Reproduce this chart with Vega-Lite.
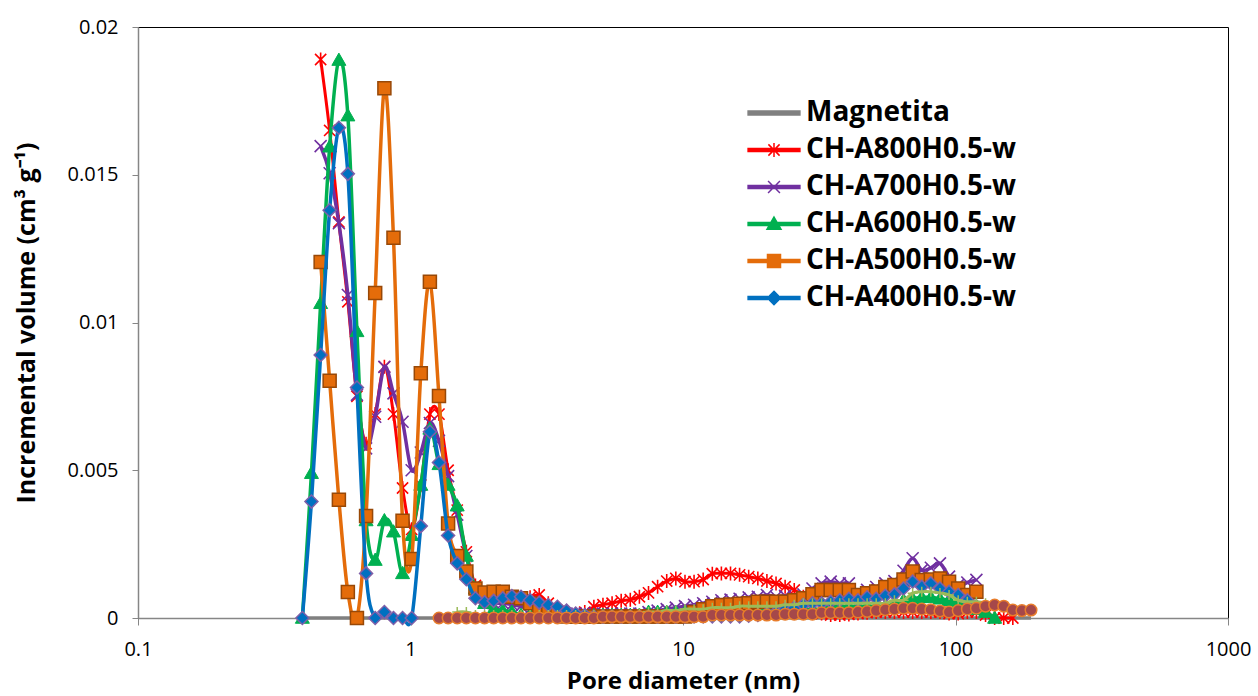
{
"$schema": "https://vega.github.io/schema/vega-lite/v6.json",
"width": 1090, "height": 591,
"autosize": {"type": "none"},
"padding": {"left": 138, "top": 27, "right": 30, "bottom": 78},
"background": "white",
"config": {"view": {"stroke": "#000", "strokeWidth": 1}, "font": "Open Sans"},
"datasets": {
"mag": [{"d":0.401,"v":0},{"d":189.3,"v":0}],
"r800": [{"d":0.468,"v":0.0189},{"d":0.505,"v":0.0165},{"d":0.546,"v":0.0134},{"d":0.589,"v":0.0107},{"d":0.636,"v":0.0075},{"d":0.687,"v":0.0059},{"d":0.742,"v":0.0069},{"d":0.802,"v":0.0085},{"d":0.866,"v":0.0069},{"d":0.935,"v":0.0044},{"d":1.01,"v":0.003},{"d":1.091,"v":0.0045},{"d":1.178,"v":0.0069},{"d":1.272,"v":0.0069},{"d":1.374,"v":0.005},{"d":1.484,"v":0.00365},{"d":1.603,"v":0.00224},{"d":1.731,"v":0.0011},{"d":1.87,"v":0.0008},{"d":2.019,"v":0.00065},{"d":2.181,"v":0.00065},{"d":2.355,"v":0.00065},{"d":2.544,"v":0.0006},{"d":2.747,"v":0.0007},{"d":2.967,"v":0.00078},{"d":3.204,"v":0.0005},{"d":3.461,"v":0.00025},{"d":3.738,"v":0.0001},{"d":4.037,"v":0.00005},{"d":4.36,"v":0.0002},{"d":4.709,"v":0.00038},{"d":5.085,"v":0.00045},{"d":5.492,"v":0.0005},{"d":5.931,"v":0.00058},{"d":6.406,"v":0.00062},{"d":6.918,"v":0.00072},{"d":7.472,"v":0.00085},{"d":8.069,"v":0.00106},{"d":8.715,"v":0.00125},{"d":9.412,"v":0.00134},{"d":10.17,"v":0.00123},{"d":10.98,"v":0.00123},{"d":11.86,"v":0.0013},{"d":12.81,"v":0.0015},{"d":13.83,"v":0.00151},{"d":14.94,"v":0.00151},{"d":16.13,"v":0.00146},{"d":17.42,"v":0.0014},{"d":18.82,"v":0.00134},{"d":20.32,"v":0.00125},{"d":21.95,"v":0.00117},{"d":23.7,"v":0.00106},{"d":25.6,"v":0.00095},{"d":27.65,"v":0.00072},{"d":29.86,"v":0.0003},{"d":32.25,"v":0.00015},{"d":34.83,"v":0.0001},{"d":37.61,"v":0.0001},{"d":40.62,"v":0.00012},{"d":43.87,"v":0.00015},{"d":47.38,"v":0.00018},{"d":51.17,"v":0.0002},{"d":55.27,"v":0.0002},{"d":59.69,"v":0.0002},{"d":64.46,"v":0.0002},{"d":69.62,"v":0.0002},{"d":75.19,"v":0.0002},{"d":81.2,"v":0.0002},{"d":87.7,"v":0.0002},{"d":94.7,"v":0.00015},{"d":102.3,"v":0.00015},{"d":110.5,"v":0.0002},{"d":119.3,"v":0.0002},{"d":128.9,"v":0.0001},{"d":139.2,"v":0},{"d":150.3,"v":0},{"d":162.3,"v":0}],
"r700": [{"d":0.468,"v":0.01597},{"d":0.505,"v":0.01505},{"d":0.546,"v":0.01336},{"d":0.589,"v":0.01093},{"d":0.636,"v":0.00755},{"d":0.687,"v":0.00574},{"d":0.742,"v":0.00681},{"d":0.802,"v":0.0085},{"d":0.866,"v":0.0076},{"d":0.935,"v":0.00664},{"d":1.01,"v":0.005},{"d":1.091,"v":0.0056},{"d":1.178,"v":0.0066},{"d":1.272,"v":0.006},{"d":1.374,"v":0.0048},{"d":1.484,"v":0.0035},{"d":1.603,"v":0.0021},{"d":1.731,"v":0.001},{"d":1.87,"v":0.0006},{"d":2.019,"v":0.0005},{"d":2.181,"v":0.0005},{"d":2.355,"v":0.00045},{"d":2.544,"v":0.0004},{"d":2.747,"v":0.0003},{"d":2.967,"v":0.0002},{"d":3.204,"v":0.00015},{"d":3.461,"v":0.00015},{"d":3.738,"v":0.00015},{"d":4.037,"v":0.00015},{"d":4.36,"v":0.00015},{"d":4.709,"v":0.00015},{"d":5.085,"v":0.00015},{"d":5.492,"v":0.00015},{"d":5.931,"v":0.00015},{"d":6.406,"v":0.00015},{"d":6.918,"v":0.00015},{"d":7.472,"v":0.0002},{"d":8.069,"v":0.00025},{"d":8.715,"v":0.0003},{"d":9.412,"v":0.00035},{"d":10.17,"v":0.0004},{"d":10.98,"v":0.00045},{"d":11.86,"v":0.0005},{"d":12.81,"v":0.00055},{"d":13.83,"v":0.0006},{"d":14.94,"v":0.00062},{"d":16.13,"v":0.00065},{"d":17.42,"v":0.0007},{"d":18.82,"v":0.00072},{"d":20.32,"v":0.00078},{"d":21.95,"v":0.00072},{"d":23.7,"v":0.00075},{"d":25.6,"v":0.00072},{"d":27.65,"v":0.0008},{"d":29.86,"v":0.001},{"d":32.25,"v":0.00117},{"d":34.83,"v":0.00123},{"d":37.61,"v":0.00117},{"d":40.62,"v":0.00117},{"d":43.87,"v":0.00084},{"d":47.38,"v":0.00095},{"d":51.17,"v":0.00105},{"d":55.27,"v":0.00117},{"d":59.69,"v":0.00125},{"d":64.46,"v":0.0016},{"d":69.62,"v":0.00202},{"d":75.19,"v":0.00162},{"d":81.2,"v":0.0017},{"d":87.7,"v":0.00185},{"d":94.7,"v":0.0014},{"d":102.3,"v":0.00112},{"d":110.5,"v":0.0012},{"d":119.3,"v":0.00129}],
"r600": [{"d":0.401,"v":0},{"d":0.433,"v":0.0049},{"d":0.468,"v":0.01065},{"d":0.505,"v":0.01595},{"d":0.546,"v":0.01888},{"d":0.589,"v":0.017},{"d":0.636,"v":0.0097},{"d":0.687,"v":0.0033},{"d":0.742,"v":0.00196},{"d":0.802,"v":0.0033},{"d":0.866,"v":0.00292},{"d":0.935,"v":0.00151},{"d":1.01,"v":0.0028},{"d":1.091,"v":0.0045},{"d":1.178,"v":0.0064},{"d":1.272,"v":0.0052},{"d":1.374,"v":0.0045},{"d":1.484,"v":0.0038},{"d":1.603,"v":0.0021},{"d":1.731,"v":0.001},{"d":1.87,"v":0.0005},{"d":2.019,"v":0.0003},{"d":2.181,"v":0.00025},{"d":2.355,"v":0.0002},{"d":2.544,"v":0.0001},{"d":2.747,"v":0.0001},{"d":2.967,"v":0.0001},{"d":3.204,"v":0.0001},{"d":3.461,"v":0.0001},{"d":3.738,"v":0.0001},{"d":4.037,"v":0.0001},{"d":4.36,"v":0.0001},{"d":4.709,"v":0.0001},{"d":5.085,"v":0.0001},{"d":5.492,"v":0.0001},{"d":5.931,"v":0.0001},{"d":6.406,"v":0.0001},{"d":6.918,"v":0.0001},{"d":7.472,"v":0.0002},{"d":8.069,"v":0.0002},{"d":8.715,"v":0.0002},{"d":9.412,"v":0.0002},{"d":10.17,"v":0.0002},{"d":10.98,"v":0.0002},{"d":11.86,"v":0.0002},{"d":12.81,"v":0.0002},{"d":13.83,"v":0.0002},{"d":14.94,"v":0.0002},{"d":16.13,"v":0.0003},{"d":17.42,"v":0.0003},{"d":18.82,"v":0.0003},{"d":20.32,"v":0.0003},{"d":21.95,"v":0.0003},{"d":23.7,"v":0.0003},{"d":25.6,"v":0.0003},{"d":27.65,"v":0.0003},{"d":29.86,"v":0.0003},{"d":32.25,"v":0.0003},{"d":34.83,"v":0.0004},{"d":37.61,"v":0.0004},{"d":40.62,"v":0.0004},{"d":43.87,"v":0.0004},{"d":47.38,"v":0.0004},{"d":51.17,"v":0.0004},{"d":55.27,"v":0.0004},{"d":59.69,"v":0.0005},{"d":64.46,"v":0.0006},{"d":69.62,"v":0.00065},{"d":75.19,"v":0.0007},{"d":81.2,"v":0.0007},{"d":87.7,"v":0.00065},{"d":94.7,"v":0.0006},{"d":102.3,"v":0.0005},{"d":110.5,"v":0.0004},{"d":119.3,"v":0.0003},{"d":128.9,"v":0.0002},{"d":139.2,"v":0}],
"r500": [{"d":0.468,"v":0.01205},{"d":0.505,"v":0.00803},{"d":0.546,"v":0.004},{"d":0.589,"v":0.00088},{"d":0.636,"v":0},{"d":0.687,"v":0.00345},{"d":0.742,"v":0.011},{"d":0.802,"v":0.01793},{"d":0.866,"v":0.01287},{"d":0.935,"v":0.00329},{"d":1.01,"v":0.002},{"d":1.091,"v":0.00828},{"d":1.178,"v":0.01138},{"d":1.272,"v":0.00751},{"d":1.374,"v":0.0032},{"d":1.484,"v":0.0021},{"d":1.603,"v":0.00157},{"d":1.731,"v":0.001},{"d":1.87,"v":0.00086},{"d":2.019,"v":0.00089},{"d":2.181,"v":0.00089},{"d":2.355,"v":0.00072},{"d":2.544,"v":0.00067},{"d":2.747,"v":0.0005},{"d":2.967,"v":0.00035},{"d":3.204,"v":0.00025},{"d":3.461,"v":0.00015},{"d":3.738,"v":0.00005},{"d":4.037,"v":0.00005},{"d":4.36,"v":0.00005},{"d":4.709,"v":0.00005},{"d":5.085,"v":0.00005},{"d":5.492,"v":0.00005},{"d":5.931,"v":0.00005},{"d":6.406,"v":0.00005},{"d":6.918,"v":0.00005},{"d":7.472,"v":0.00005},{"d":8.069,"v":0.00005},{"d":8.715,"v":0.00005},{"d":9.412,"v":0.00005},{"d":10.17,"v":0.00005},{"d":10.98,"v":0.0002},{"d":11.86,"v":0.0003},{"d":12.81,"v":0.0004},{"d":13.83,"v":0.00044},{"d":14.94,"v":0.00046},{"d":16.13,"v":0.00048},{"d":17.42,"v":0.0005},{"d":18.82,"v":0.00055},{"d":20.32,"v":0.00055},{"d":21.95,"v":0.00055},{"d":23.7,"v":0.00055},{"d":25.6,"v":0.0006},{"d":27.65,"v":0.00067},{"d":29.86,"v":0.0008},{"d":32.25,"v":0.00095},{"d":34.83,"v":0.00095},{"d":37.61,"v":0.00095},{"d":40.62,"v":0.00095},{"d":43.87,"v":0.00078},{"d":47.38,"v":0.00084},{"d":51.17,"v":0.0009},{"d":55.27,"v":0.00105},{"d":59.69,"v":0.00112},{"d":64.46,"v":0.0013},{"d":69.62,"v":0.00157},{"d":75.19,"v":0.00129},{"d":81.2,"v":0.0013},{"d":87.7,"v":0.00134},{"d":94.7,"v":0.00123},{"d":102.3,"v":0.001},{"d":110.5,"v":0.00078},{"d":119.3,"v":0.00089}],
"r400": [{"d":0.401,"v":0},{"d":0.433,"v":0.00394},{"d":0.468,"v":0.0089},{"d":0.505,"v":0.0138},{"d":0.546,"v":0.01659},{"d":0.589,"v":0.01503},{"d":0.636,"v":0.0078},{"d":0.687,"v":0.00151},{"d":0.742,"v":0},{"d":0.802,"v":0.0002},{"d":0.866,"v":0},{"d":0.935,"v":0},{"d":1.01,"v":0},{"d":1.091,"v":0.00311},{"d":1.178,"v":0.0063},{"d":1.272,"v":0.00526},{"d":1.374,"v":0.00279},{"d":1.484,"v":0.00185},{"d":1.603,"v":0.00131},{"d":1.731,"v":0.00067},{"d":1.87,"v":0.00053},{"d":2.019,"v":0.00058},{"d":2.181,"v":0.00067},{"d":2.355,"v":0.00074},{"d":2.544,"v":0.00072},{"d":2.747,"v":0.00061},{"d":2.967,"v":0.00052},{"d":3.204,"v":0.00044},{"d":3.461,"v":0.00038},{"d":3.738,"v":0.00025},{"d":4.037,"v":0.00015},{"d":4.36,"v":0.0001},{"d":4.709,"v":0.00005},{"d":5.085,"v":0.00005},{"d":5.492,"v":0.00005},{"d":5.931,"v":0.00005},{"d":6.406,"v":0.00005},{"d":6.918,"v":0.00005},{"d":7.472,"v":0.00005},{"d":8.069,"v":0.00005},{"d":8.715,"v":0.00005},{"d":9.412,"v":0.00005},{"d":10.17,"v":0.00005},{"d":10.98,"v":0.00005},{"d":11.86,"v":0.00005},{"d":12.81,"v":0.00005},{"d":13.83,"v":0.00005},{"d":14.94,"v":0.00005},{"d":16.13,"v":0.00005},{"d":17.42,"v":0.00008},{"d":18.82,"v":0.0001},{"d":20.32,"v":0.00015},{"d":21.95,"v":0.0002},{"d":23.7,"v":0.0003},{"d":25.6,"v":0.00035},{"d":27.65,"v":0.00045},{"d":29.86,"v":0.0005},{"d":32.25,"v":0.0005},{"d":34.83,"v":0.00055},{"d":37.61,"v":0.0006},{"d":40.62,"v":0.00065},{"d":43.87,"v":0.0006},{"d":47.38,"v":0.0007},{"d":51.17,"v":0.00065},{"d":55.27,"v":0.00075},{"d":59.69,"v":0.0008},{"d":64.46,"v":0.001},{"d":69.62,"v":0.00123},{"d":75.19,"v":0.00106},{"d":81.2,"v":0.00117},{"d":87.7,"v":0.001},{"d":94.7,"v":0.00089},{"d":102.3,"v":0.00078},{"d":110.5,"v":0.0006},{"d":119.3,"v":0.0004}],
"olive": [{"d":1.484,"v":0.0002},{"d":1.603,"v":0.0002},{"d":1.731,"v":0.0001},{"d":1.87,"v":0.0001},{"d":2.019,"v":0.0001},{"d":2.181,"v":0.0001},{"d":2.355,"v":0.0001},{"d":2.544,"v":0.0001},{"d":2.747,"v":0.0001},{"d":2.967,"v":0.0001},{"d":3.204,"v":0.0001},{"d":3.461,"v":0.0001},{"d":3.738,"v":0.0001},{"d":4.037,"v":0.0001},{"d":4.36,"v":0.0001},{"d":4.709,"v":0.0001},{"d":5.085,"v":0.0001},{"d":5.492,"v":0.0001},{"d":5.931,"v":0.0001},{"d":6.406,"v":0.0001},{"d":6.918,"v":0.00015},{"d":7.472,"v":0.0002},{"d":8.069,"v":0.0002},{"d":8.715,"v":0.00025},{"d":9.412,"v":0.00025},{"d":10.17,"v":0.0003},{"d":10.98,"v":0.0003},{"d":11.86,"v":0.0003},{"d":12.81,"v":0.00035},{"d":13.83,"v":0.00035},{"d":14.94,"v":0.00035},{"d":16.13,"v":0.0004},{"d":17.42,"v":0.0004},{"d":18.82,"v":0.0004},{"d":20.32,"v":0.0004},{"d":21.95,"v":0.0004},{"d":23.7,"v":0.00045},{"d":25.6,"v":0.00045},{"d":27.65,"v":0.0005},{"d":29.86,"v":0.0005},{"d":32.25,"v":0.0005},{"d":34.83,"v":0.0005},{"d":37.61,"v":0.0005},{"d":40.62,"v":0.0005},{"d":43.87,"v":0.0005},{"d":47.38,"v":0.0005},{"d":51.17,"v":0.0005},{"d":55.27,"v":0.0005},{"d":59.69,"v":0.0006},{"d":64.46,"v":0.0006},{"d":69.62,"v":0.00084},{"d":75.19,"v":0.00089},{"d":81.2,"v":0.00089},{"d":87.7,"v":0.00085},{"d":94.7,"v":0.00078},{"d":102.3,"v":0.0006},{"d":110.5,"v":0.00055},{"d":119.3,"v":0.00055},{"d":128.9,"v":0.0005},{"d":139.2,"v":0.0004}],
"circ": [{"d":1.272,"v":0},{"d":1.374,"v":0},{"d":1.484,"v":0},{"d":1.603,"v":0},{"d":1.731,"v":0},{"d":1.87,"v":0},{"d":2.019,"v":0},{"d":2.181,"v":0},{"d":2.355,"v":0},{"d":2.544,"v":0},{"d":2.747,"v":0},{"d":2.967,"v":0},{"d":3.204,"v":0},{"d":3.461,"v":0},{"d":3.738,"v":0},{"d":4.037,"v":0},{"d":4.36,"v":0},{"d":4.709,"v":0},{"d":5.085,"v":0.00004},{"d":5.492,"v":0.00004},{"d":5.931,"v":0.00004},{"d":6.406,"v":0.00004},{"d":6.918,"v":0.00004},{"d":7.472,"v":0.00004},{"d":8.069,"v":0.00004},{"d":8.715,"v":0.00004},{"d":9.412,"v":0.00004},{"d":10.17,"v":0.00004},{"d":10.98,"v":0.00004},{"d":11.86,"v":0.00004},{"d":12.81,"v":0.0001},{"d":13.83,"v":0.0001},{"d":14.94,"v":0.0001},{"d":16.13,"v":0.0001},{"d":17.42,"v":0.0001},{"d":18.82,"v":0.0001},{"d":20.32,"v":0.0001},{"d":21.95,"v":0.0001},{"d":23.7,"v":0.00013},{"d":25.6,"v":0.00013},{"d":27.65,"v":0.00013},{"d":29.86,"v":0.00013},{"d":32.25,"v":0.00018},{"d":34.83,"v":0.00018},{"d":37.61,"v":0.00018},{"d":40.62,"v":0.00018},{"d":43.87,"v":0.0002},{"d":47.38,"v":0.00022},{"d":51.17,"v":0.00025},{"d":55.27,"v":0.00028},{"d":59.69,"v":0.0003},{"d":64.46,"v":0.00033},{"d":69.62,"v":0.00033},{"d":75.19,"v":0.0003},{"d":81.2,"v":0.00028},{"d":87.7,"v":0.00024},{"d":94.7,"v":0.0002},{"d":102.3,"v":0.00025},{"d":110.5,"v":0.0003},{"d":119.3,"v":0.00033},{"d":128.9,"v":0.0004},{"d":139.2,"v":0.00044},{"d":150.3,"v":0.0004},{"d":162.3,"v":0.00027},{"d":175.3,"v":0.00025},{"d":189.3,"v":0.00027}]
},
"encoding": {
"x": {"field": "d", "type": "quantitative", "scale": {"type": "log", "domain": [0.1, 1000], "nice": false},
 "axis": {"values": [0.1, 1, 10, 100, 1000], "format": "~g", "title": "Pore diameter (nm)", "grid": false, "tickSize": 7, "tickColor": "#868686", "domainColor": "#868686", "domainWidth": 1.5, "labelFontSize": 20, "labelFont": "Open Sans", "labelColor": "#000", "labelPadding": 14, "labelFlush": false, "labelOverlap": false, "titleFont": "Open Sans", "titleFontSize": 24, "titleFontWeight": "bold", "titleColor": "#000", "titlePadding": 10}},
"y": {"field": "v", "type": "quantitative", "scale": {"domain": [0, 0.02], "nice": false, "zero": false},
 "axis": {"values": [0, 0.005, 0.01, 0.015, 0.02], "format": "~g", "title": "Incremental volume (cm³ g⁻¹)", "grid": false, "tickSize": 6, "tickColor": "#868686", "domainColor": "#868686", "domainWidth": 1.5, "labelFontSize": 20, "labelFont": "Open Sans", "labelColor": "#000", "labelPadding": 14, "titleFont": "Open Sans", "titleFontSize": 25, "titleFontWeight": "bold", "titleColor": "#000", "titlePadding": 28}}
},
"layer": [
{"data": {"name": "mag"}, "mark": {"type": "line", "strokeWidth": 3.5},
 "encoding": {"color": {"datum": "Magnetita", "type": "nominal",
  "scale": {"domain": ["Magnetita", "CH-A800H0.5-w", "CH-A700H0.5-w", "CH-A600H0.5-w", "CH-A500H0.5-w", "CH-A400H0.5-w"], "range": ["#808080", "#FF0000", "#7030A0", "#00B050", "#E46C0A", "#0070C0"]},
  "legend": {"orient": "none", "legendX": 622, "legendY": 72, "title": null, "padding": 0, "labelFont": "Open Sans", "labelFontSize": 28, "labelFontWeight": "bold", "labelColor": "#000", "labelOffset": 18, "labelLimit": 500, "rowPadding": 9, "symbolSize": 196, "symbolStrokeWidth": 1.5,
   "encode": {"symbols": {"update": {
    "shape": {"signal": "datum.value==='Magnetita'?'M-3.7,-0.28H3.7V0.28H-3.7Z':datum.value==='CH-A800H0.5-w'?'M-3.7,-0.2H3.7V0.2H-3.7ZM-0.8,-0.8L0.8,0.8M-0.8,0.8L0.8,-0.8M0,-1L0,1':datum.value==='CH-A700H0.5-w'?'M-3.7,-0.2H3.7V0.2H-3.7ZM-0.85,-0.85L0.85,0.85M-0.85,0.85L0.85,-0.85':datum.value==='CH-A600H0.5-w'?'M-3.7,-0.2H3.7V0.2H-3.7ZM0,-1L1,0.75L-1,0.75Z':datum.value==='CH-A500H0.5-w'?'M-3.7,-0.2H-0.93V0.2H-3.7ZM0.93,-0.2H3.7V0.2H0.93ZM-0.93,-0.93H0.93V0.93H-0.93Z':'M-3.7,-0.2H-0.95V0.2H-3.7ZM0.95,-0.2H3.7V0.2H0.95ZM0,-0.95L0.95,0L0,0.95L-0.95,0Z'"},
    "fill": {"signal": "datum.value==='Magnetita'?'#808080':datum.value==='CH-A800H0.5-w'?'#FF0000':datum.value==='CH-A700H0.5-w'?'#7030A0':datum.value==='CH-A600H0.5-w'?'#00B050':datum.value==='CH-A500H0.5-w'?'#E46C0A':'#0070C0'"},
    "stroke": {"signal": "datum.value==='Magnetita'?'#808080':datum.value==='CH-A800H0.5-w'?'#FF0000':datum.value==='CH-A700H0.5-w'?'#7030A0':datum.value==='CH-A600H0.5-w'?'#00B050':datum.value==='CH-A500H0.5-w'?'#984807':'#7F5FA8'"},
    "strokeWidth": {"value": 1.5},
    "opacity": {"value": 1}
   }}}}}}},
{"data": {"name": "r800"}, "mark": {"type": "line", "interpolate": "cardinal", "tension": 0, "strokeWidth": 3}, "encoding": {"color": {"datum": "CH-A800H0.5-w", "type": "nominal"}}},
{"data": {"name": "r800"}, "mark": {"type": "point", "shape": "M-0.8,-0.8L0.8,0.8M-0.8,0.8L0.8,-0.8M0,-1L0,1", "size": 196, "filled": false, "stroke": "#FF0000", "strokeWidth": 1.6, "opacity": 1}},
{"data": {"name": "r700"}, "mark": {"type": "line", "interpolate": "cardinal", "tension": 0, "strokeWidth": 3.5}, "encoding": {"color": {"datum": "CH-A700H0.5-w", "type": "nominal"}}},
{"data": {"name": "r700"}, "mark": {"type": "point", "shape": "M-1,-1L1,1M-1,1L1,-1", "size": 144, "filled": false, "stroke": "#7030A0", "strokeWidth": 1.6, "opacity": 1}},
{"data": {"name": "r600"}, "mark": {"type": "line", "interpolate": "cardinal", "tension": 0, "strokeWidth": 3.5}, "encoding": {"color": {"datum": "CH-A600H0.5-w", "type": "nominal"}}},
{"data": {"name": "r600"}, "mark": {"type": "point", "shape": "M0,-1L1,0.75L-1,0.75Z", "size": 196, "filled": true, "fill": "#00B050", "stroke": "#00B050", "strokeWidth": 1, "opacity": 1}},
{"data": {"name": "r500"}, "mark": {"type": "line", "interpolate": "cardinal", "tension": 0, "strokeWidth": 3.5}, "encoding": {"color": {"datum": "CH-A500H0.5-w", "type": "nominal"}}},
{"data": {"name": "r500"}, "mark": {"type": "point", "shape": "M-1,-1H1V1H-1Z", "size": 169, "filled": true, "fill": "#E46C0A", "stroke": "#984807", "strokeWidth": 1.5, "opacity": 1}},
{"data": {"name": "r400"}, "mark": {"type": "line", "interpolate": "cardinal", "tension": 0, "strokeWidth": 3.5}, "encoding": {"color": {"datum": "CH-A400H0.5-w", "type": "nominal"}}},
{"data": {"name": "r400"}, "mark": {"type": "point", "shape": "M0,-1L1,0L0,1L-1,0Z", "size": 169, "filled": true, "fill": "#0070C0", "stroke": "#7F5FA8", "strokeWidth": 1.5, "opacity": 1}},
{"data": {"name": "olive"}, "mark": {"type": "line", "interpolate": "cardinal", "tension": 0, "strokeWidth": 3, "color": "#9BBB59"}, "encoding": {}},
{"data": {"name": "olive"}, "mark": {"type": "point", "shape": "M-1,0L1,0M0,-1L0,1", "size": 100, "filled": false, "stroke": "#9BBB59", "strokeWidth": 1.5, "opacity": 1}},
{"data": {"name": "circ"}, "mark": {"type": "line", "interpolate": "cardinal", "tension": 0, "strokeWidth": 3, "color": "#E46C0A"}, "encoding": {}},
{"data": {"name": "circ"}, "mark": {"type": "point", "shape": "circle", "size": 133, "filled": true, "fill": "#A5484A", "stroke": "#E87D2B", "strokeWidth": 1.5, "opacity": 1}}
]
}
